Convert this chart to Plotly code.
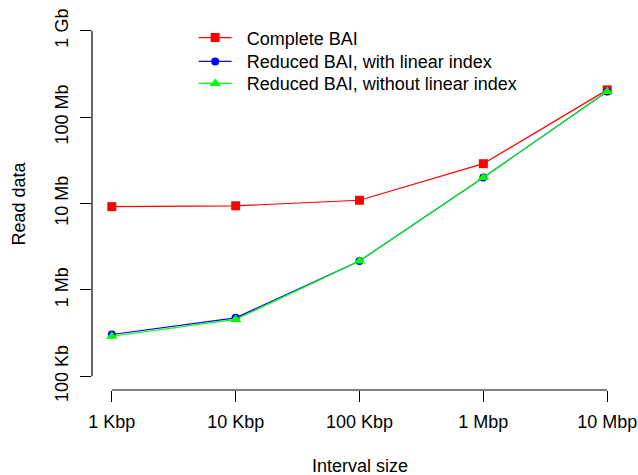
import math
import plotly.graph_objects as go

# Data
interval_sizes = [1e3, 1e4, 1e5, 1e6, 1e7]
x_tick_labels = ["1 Kbp", "10 Kbp", "100 Kbp", "1 Mbp", "10 Mbp"]

complete_bai = [9.2e6, 9.4e6, 1.09e7, 2.89e7, 2.07e8]
reduced_linear = [3.04e5, 4.74e5, 2.16e6, 2.0e7, 1.98e8]
reduced_nolinear = [2.9e5, 4.54e5, 2.16e6, 2.0e7, 1.98e8]

y_tick_vals = [1e5, 1e6, 1e7, 1e8, 1e9]
y_tick_labels = ["100 Kb", "1 Mb", "10 Mb", "100 Mb", "1 Gb"]

series_names = ["Complete BAI", "Reduced BAI, with linear index",
                "Reduced BAI, without linear index"]

FONT = "Liberation Sans, Arial, sans-serif"
FS = 18
PAD = "\u00a0\u00a0"

fig = go.Figure()
fig.add_trace(go.Scatter(
    x=interval_sizes, y=complete_bai, mode="lines+markers",
    name=PAD + series_names[0], legend="legend",
    line=dict(color="#FF0000", width=1.2),
    marker=dict(symbol="square", size=9, color="#FF0000"),
))
fig.add_trace(go.Scatter(
    x=interval_sizes, y=reduced_linear, mode="lines+markers",
    name=PAD + series_names[1], legend="legend2",
    line=dict(color="#0000FF", width=1.2),
    marker=dict(symbol="circle", size=8, color="#0000FF"),
))
fig.add_trace(go.Scatter(
    x=interval_sizes, y=reduced_nolinear, mode="lines+markers",
    name=PAD + series_names[2], legend="legend3",
    line=dict(color="#00FF00", width=1.2),
    marker=dict(symbol="triangle-up", size=10, color="#00FF00"),
))

xr = [math.log10(interval_sizes[0]), math.log10(interval_sizes[-1])]
xext = 0.04 * (xr[1] - xr[0])
xrange_ = [xr[0] - xext, xr[1] + xext]
yr = [math.log10(y_tick_vals[0]), math.log10(y_tick_vals[-1])]
yext = 0.04 * (yr[1] - yr[0])
yrange_ = [yr[0] - yext, yr[1] + yext]

def xfrac(v):
    return (v - xrange_[0]) / (xrange_[1] - xrange_[0])

def yfrac(v):
    return (v - yrange_[0]) / (yrange_[1] - yrange_[0])

# R-style axis lines spanning from first to last tick
axis_shapes = [
    dict(type="line", xref="paper", yref="paper", layer="above",
         x0=xfrac(xr[0]), x1=xfrac(xr[1]), y0=0, y1=0,
         line=dict(color="black", width=1.2)),
    dict(type="line", xref="paper", yref="paper", layer="above",
         x0=0, x1=0, y0=yfrac(yr[0]), y1=yfrac(yr[1]),
         line=dict(color="black", width=1.2)),
]

leg_common = dict(xanchor="left", yanchor="middle", bgcolor="rgba(0,0,0,0)",
                  font=dict(size=FS), itemwidth=33, borderwidth=0)
LX = 0.19
fig.update_layout(
    width=638, height=475,
    margin=dict(l=92, r=11, t=17, b=85, autoexpand=False),
    paper_bgcolor="white", plot_bgcolor="white",
    font=dict(family=FONT, size=FS, color="black"),
    showlegend=True,
    legend=dict(x=LX, y=0.944, **leg_common),
    legend2=dict(x=LX, y=0.880, **leg_common),
    legend3=dict(x=LX, y=0.821, **leg_common),
    shapes=axis_shapes,
    xaxis=dict(type="log", range=xrange_, automargin=False,
               tickvals=interval_sizes, ticktext=x_tick_labels,
               ticks="outside", ticklen=11, tickcolor="black",
               showgrid=False, zeroline=False, showline=False,
               ticklabelstandoff=4, tickfont=dict(size=FS)),
    yaxis=dict(type="log", range=yrange_, automargin=False,
               tickvals=y_tick_vals, ticktext=y_tick_labels,
               ticks="outside", ticklen=11, tickcolor="black",
               showgrid=False, zeroline=False, showline=False,
               ticklabelstandoff=5,
               tickangle=-90, tickfont=dict(size=FS)),
    annotations=[
        dict(text="Interval size", xref="paper", yref="paper",
             x=0.5, y=0, yshift=-76, showarrow=False,
             xanchor="center", yanchor="middle", font=dict(size=FS)),
        dict(text="Read data", xref="paper", yref="paper",
             x=0, y=0.5, xshift=-74, showarrow=False, textangle=-90,
             xanchor="center", yanchor="middle", font=dict(size=FS)),
    ],
)

fig.write_html("out.html", config={"displayModeBar": False},
               post_script="document.body.style.margin='0';")
